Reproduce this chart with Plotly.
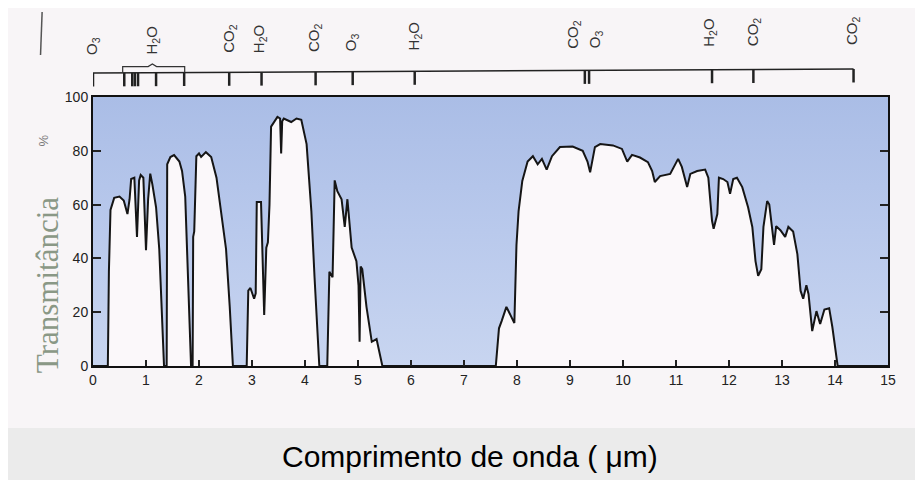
import plotly.graph_objects as go

# ---- data ----
wavelength = [
    0.00, 0.28, 0.30, 0.33, 0.40, 0.50, 0.58, 0.65, 0.69, 0.72, 0.78, 0.83, 0.87, 0.90, 0.95, 1.00, 1.04, 1.08,
    1.12, 1.19, 1.25, 1.29, 1.34,
    1.39, 1.40, 1.46, 1.53, 1.63, 1.68, 1.74, 1.78, 1.82, 1.85,
    1.88, 1.89, 1.91, 1.95, 2.00, 2.04, 2.13, 2.23, 2.33, 2.42, 2.51, 2.58, 2.64,
    2.90, 2.93, 2.97, 3.04, 3.07, 3.09, 3.17, 3.19, 3.23, 3.27, 3.30, 3.33, 3.36, 3.48, 3.53, 3.55, 3.57, 3.60,
    3.74, 3.84, 3.93, 4.03, 4.12, 4.18, 4.27,
    4.42, 4.46, 4.52, 4.56, 4.61, 4.69, 4.75, 4.80, 4.88, 4.97, 5.01, 5.03, 5.05, 5.08, 5.16, 5.26, 5.35, 5.46,
    7.60, 7.66, 7.71, 7.80, 7.90, 7.95, 7.99, 8.03, 8.10, 8.20, 8.30, 8.39, 8.47, 8.56, 8.66, 8.81, 9.05, 9.24,
    9.33, 9.38, 9.47, 9.57, 9.81, 9.98, 10.08, 10.17, 10.32, 10.47, 10.55, 10.60, 10.70, 10.89, 11.04, 11.11,
    11.21, 11.27, 11.40, 11.55, 11.61, 11.68, 11.71, 11.78, 11.81, 11.89, 11.97, 12.02, 12.08, 12.15, 12.25,
    12.36, 12.44, 12.50, 12.55, 12.61, 12.65, 12.72, 12.76, 12.82, 12.85, 12.89, 12.97, 13.06, 13.12, 13.21,
    13.29, 13.35, 13.40, 13.46, 13.50, 13.57, 13.65, 13.72, 13.80, 13.89, 13.95, 14.05, 15.00,
]
transmittance = [
    0, 0, 35, 58, 62.5, 63, 61.5, 56.5, 62, 69.5, 70, 48, 69, 71, 70, 43, 62, 71.5,
    67.5, 59, 43.5, 22, 0,
    0, 75, 77.7, 78.4, 76, 72.5, 63, 39, 14.5, 0,
    0, 48, 50, 78, 79, 77.7, 79.5, 77.7, 70, 57.6, 43.5, 22, 0,
    0, 28, 29, 25, 27, 61, 61, 45, 19, 44, 46, 60, 89, 92.6, 92, 79, 91, 92,
    90.7, 92, 91.5, 82.5, 57.6, 33, 0,
    0, 35, 33, 69, 65, 62, 51.7, 62, 44, 39, 30, 9, 37, 36, 22, 9, 10, 0,
    0, 14, 16.7, 22, 18, 16, 45, 57.6, 68.8, 76, 78, 75, 77, 73, 78, 81.4, 81.6, 80,
    76, 72, 81.4, 82.5, 82, 80.7, 76, 78.5, 77.5, 75.8, 72.5, 68.4, 70.6, 71.4, 77, 74,
    66.5, 71.4, 72.5, 73, 70, 54, 51, 56.5, 70, 69.5, 68.4, 64, 69.5, 70, 66.5,
    59, 51.7, 39, 33.5, 36, 51.7, 61.3, 60, 49, 45, 52, 50.5, 48, 51.7, 50,
    41.6, 28, 25, 30, 26.8, 13, 20.4, 15.6, 21, 21.5, 14.5, 0, 0,
]

x_ticks = list(range(0, 16))
y_ticks = [0, 20, 40, 60, 80, 100]

band_labels = ["O<sub>3</sub>", "H<sub>2</sub>O", "CO<sub>2</sub>", "H<sub>2</sub>O", "CO<sub>2</sub>",
               "O<sub>3</sub>", "H<sub>2</sub>O", "CO<sub>2</sub>", "O<sub>3</sub>", "H<sub>2</sub>O",
               "CO<sub>2</sub>", "CO<sub>2</sub>"]
band_label_x = [0.0, 1.12, 2.57, 3.14, 4.18, 4.88, 6.07, 9.05, 9.47, 11.64, 12.46, 14.33]
band_marks = [0.0, 0.59, 0.74, 0.79, 0.85, 1.19, 1.72, 2.57, 3.18, 4.20, 4.90, 6.07,
              9.28, 9.36, 11.68, 12.46, 14.35]

# ---- figure ----
fig = go.Figure()
fig.add_trace(go.Scatter(x=[0, 15], y=[100, 100], mode="lines",
                         line=dict(width=0), hoverinfo="skip", showlegend=False))
fig.add_trace(go.Scatter(
    x=wavelength, y=transmittance, mode="lines",
    line=dict(color="#151515", width=2),
    fill="tonexty",
    fillgradient=dict(type="vertical", start=0, stop=100,
                      colorscale=[[0, "#c8d5f0"], [0.5, "#b9c9ec"], [1, "#aabde6"]]),
    showlegend=False,
))

line_left, line_right = 1.089, 1.104
x_end = 14.35


def y_line(x):
    return line_left + (line_right - line_left) * x / x_end


shapes = []
shapes.append(dict(type="line", xref="x", yref="paper", x0=0, x1=x_end,
                   y0=y_line(0), y1=y_line(x_end), line=dict(color="#222", width=1.5)))
for xm in band_marks:
    shapes.append(dict(type="line", xref="x", yref="paper", x0=xm, x1=xm,
                       y0=y_line(xm) - 0.05, y1=y_line(xm), line=dict(color="#222", width=2.5)))
b0, b1, bm = 0.56, 1.73, 1.12
yb = 1.113
shapes.append(dict(type="path", xref="x", yref="paper",
                   path=f"M {b0},{y_line(b0)} L {b0},{yb} L {bm-0.08},{yb} L {bm},{yb+0.01} "
                        f"L {bm+0.08},{yb} L {b1},{yb} L {b1},{y_line(b1)}",
                   line=dict(color="#333", width=1.2)))
shapes.append(dict(type="line", xref="paper", yref="paper", x0=-0.064, x1=-0.066,
                   y0=1.316, y1=1.156, line=dict(color="#555", width=1.5)))
shapes.append(dict(type="rect", xref="paper", yref="paper", x0=-0.111, x1=1.05,
                   y0=-0.2305, y1=-0.45, fillcolor="#ebebeb", line=dict(width=0), layer="below"))

annotations = []
for lab, xl in zip(band_labels, band_label_x):
    yl = 1.149 + (1.186 - 1.149) * xl / x_end
    annotations.append(dict(text=lab, x=xl, y=yl, xref="x", yref="paper", textangle=-90,
                            xanchor="center", yanchor="bottom", showarrow=False,
                            font=dict(family="Liberation Sans", size=15, color="#333")))
annotations.append(dict(text="Transmitância", x=-0.058, y=0.30, xref="paper", yref="paper",
                        textangle=-90, showarrow=False, xanchor="center", yanchor="middle",
                        font=dict(family="Liberation Serif", size=31, color="#8a9886")))
annotations.append(dict(text="%", x=-0.073, y=0.87, xref="paper", yref="paper",
                        textangle=-90, showarrow=False,
                        font=dict(family="Liberation Sans", size=13, color="#7a7a7a")))
annotations.append(dict(text="Comprimento de onda ( μm)", x=0.474, y=-0.338, xref="paper",
                        yref="paper", showarrow=False, xanchor="center", yanchor="middle",
                        font=dict(family="Liberation Sans", size=30, color="#000")))

fig.update_layout(
    width=915, height=472,
    margin=dict(l=85, r=35, t=89, b=114),
    paper_bgcolor="#f8f5f7",
    plot_bgcolor="#fbf8fa",
    shapes=shapes,
    annotations=annotations,
    showlegend=False,
    xaxis=dict(range=[0, 15], tickvals=x_ticks, ticks="inside", ticklen=6, tickwidth=1.5,
               tickcolor="#222", showline=True, linecolor="#111", linewidth=2, mirror=True,
               showgrid=False, zeroline=False,
               tickfont=dict(family="Liberation Sans Narrow, Liberation Sans", size=14, color="#222")),
    yaxis=dict(range=[0, 100], tickvals=y_ticks, ticks="inside", ticklen=8, tickwidth=2,
               tickcolor="#222", showline=True, linecolor="#111", linewidth=2, mirror="ticks",
               showgrid=False, zeroline=False,
               tickfont=dict(family="Liberation Sans Narrow, Liberation Sans", size=14, color="#222")),
)

fig.write_html("out.html")
